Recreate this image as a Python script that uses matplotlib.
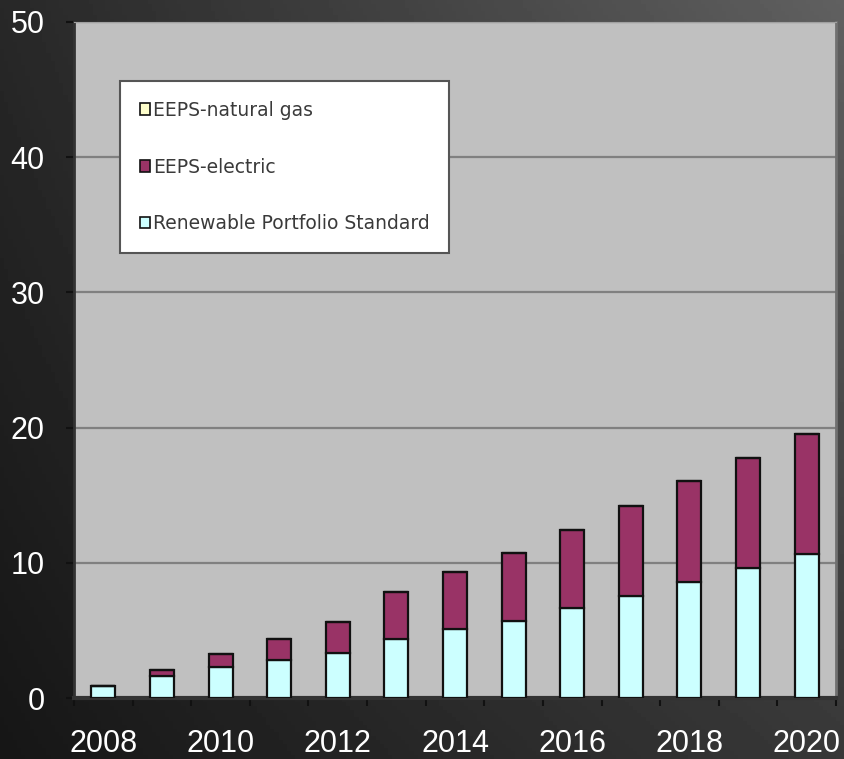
import matplotlib.pyplot as plt
from matplotlib.patches import Patch
import numpy as np

# data
years = list(range(2008, 2021))
rps = [0.9, 1.6, 2.3, 2.8, 3.3, 4.35, 5.1, 5.7, 6.65, 7.55, 8.6, 9.6, 10.65]
electric = [0.0, 0.5, 0.95, 1.6, 2.3, 3.5, 4.2, 5.0, 5.75, 6.65, 7.45, 8.15, 8.85]
natural_gas = [0.0] * 13
year_labels = [str(y) if y % 2 == 0 else '' for y in years]

c_rps = '#ccffff'
c_elec = '#993366'
c_gas = '#ffffcc'

fig = plt.figure(figsize=(8.44, 7.59), dpi=100)

# dark gradient background
bg = fig.add_axes([0, 0, 1, 1], zorder=-10)
gx = np.linspace(0, 1, 200)
gy = np.linspace(0, 1, 200)
X, Y = np.meshgrid(gx, gy)
tl, tr, bl, br = 40, 96, 22, 56
V = (tl * (1 - X) * (1 - Y) + tr * X * (1 - Y) + bl * (1 - X) * Y + br * X * Y) / 255.0
bg.imshow(V, cmap='gray', vmin=0, vmax=1, aspect='auto', extent=[0, 1, 0, 1], origin='upper')
bg.axis('off')

ax = fig.add_axes([74 / 844, 1 - 698 / 759, 762 / 844, 676 / 759])
ax.set_facecolor('#c0c0c0')

x = np.arange(len(years))
w = 0.41
bottom2 = [a + b for a, b in zip(rps, electric)]
ax.bar(x, rps, w, color=c_rps, edgecolor='#111111', linewidth=1.6, zorder=3)
ax.bar(x, electric, w, bottom=rps, color=c_elec, edgecolor='#111111', linewidth=1.6, zorder=3)
ax.bar(x, natural_gas, w, bottom=bottom2, color=c_gas, edgecolor='#111111', linewidth=1.6, zorder=3)

ax.set_xlim(-0.5, len(years) - 0.5)
ax.set_ylim(0, 50)
ax.set_yticks(range(0, 51, 10))
ax.yaxis.grid(True, color='#808080', linewidth=1.6)
ax.set_axisbelow(True)

ax.set_xticks(x)
ax.set_xticklabels(year_labels)
ax.set_xticks(np.arange(-0.5, len(years), 1.0), minor=True)
ax.tick_params(axis='x', which='major', length=0, pad=22, labelsize=22, labelcolor='white')
ax.tick_params(axis='x', which='minor', length=6, width=1.5, color='#111111', direction='out')
ax.tick_params(axis='y', length=6, width=1.5, color='#111111', pad=15, labelsize=22, labelcolor='white')
for lab in ax.get_xticklabels() + ax.get_yticklabels():
    lab.set_family('Liberation Sans')

ax.spines['left'].set_color('#333333')
ax.spines['left'].set_linewidth(2)
ax.spines['bottom'].set_color('#333333')
ax.spines['bottom'].set_linewidth(3)
ax.spines['top'].set_color('#a0a0a0')
ax.spines['right'].set_color('#707070')
ax.spines['right'].set_linewidth(2)

handles = [Patch(facecolor=c_gas, edgecolor='#111111', linewidth=1.2, label='EEPS-natural gas'),
           Patch(facecolor=c_elec, edgecolor='#111111', linewidth=1.2, label='EEPS-electric'),
           Patch(facecolor=c_rps, edgecolor='#111111', linewidth=1.2, label='Renewable Portfolio Standard')]
leg = ax.legend(handles=handles, loc='upper left', bbox_to_anchor=((120 - 74) / 762, (698 - 81) / 676),
                borderaxespad=0, fancybox=False, framealpha=1, edgecolor='#555555',
                prop={'family': 'DejaVu Sans', 'size': 13.5}, labelspacing=2.02, borderpad=1.05,
                handlelength=0.55, handleheight=0.55, handletextpad=0.15, labelcolor='#3a3a3a')
leg.get_frame().set_linewidth(1.5)
leg.set_zorder(5)

plt.savefig('out.png', dpi=100)
